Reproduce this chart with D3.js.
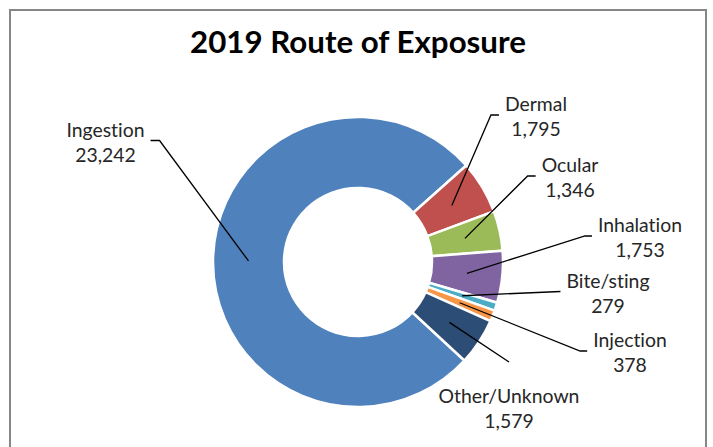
<!DOCTYPE html>
<html>
<head>
<meta charset="utf-8">
<script src="https://cdn.jsdelivr.net/npm/d3@7/dist/d3.min.js"></script>
<style>
  html, body { margin: 0; padding: 0; background: #fff; }
  svg { display: block; }
  text { font-variant-ligatures: none; font-feature-settings: "liga" 0, "clig" 0; }
</style>
</head>
<body>
<script>
// ---- data ----
const categories = ["Ingestion", "Dermal", "Ocular", "Inhalation", "Bite/sting", "Injection", "Other/Unknown"];
const values = [23242, 1795, 1346, 1753, 279, 378, 1579];
const colors = ["#4F81BD", "#C0504D", "#9BBB59", "#8064A2", "#4BACC6", "#F79646", "#2C4D75"];
const titleText = "2019 Route of Exposure";

// ---- layout (label placement) ----
const labelCenters = [[105.5, 136.5], [536, 111], [570, 172], [640, 232], [608, 287.5], [630, 347], [509, 403]];
const labelSides = ["right", "left", "left", "left", "left", "left", "top"];
const elbows = [9, 8, 8, 7, 0, 7, 0];

const W = 713, H = 447;
const cx = 358, cy = 262, outerR = 145, innerR = 74;
const startDeg = 132.8;

const svg = d3.select("body").append("svg").attr("width", W).attr("height", H);

// frame
svg.append("rect").attr("x", 10).attr("y", 10).attr("width", 696).attr("height", 460)
  .attr("fill", "#fff").attr("stroke", "#868686").attr("stroke-width", 2);

const FONT = "Lato, 'Open Sans', sans-serif";

// title (fit to target width)
const title = svg.append("text").text(titleText)
  .attr("x", 358).attr("y", 53).attr("text-anchor", "middle")
  .attr("font-family", FONT).attr("font-weight", 700).attr("font-size", 30).attr("fill", "#000");
{
  const w = title.node().getComputedTextLength();
  title.attr("font-size", 30 * 336 / w);
}

// pie
const a0 = startDeg * Math.PI / 180;
const pie = d3.pie().sort(null).value(d => d.value).startAngle(a0).endAngle(a0 + 2 * Math.PI);
const data = categories.map((c, i) => ({ cat: c, value: values[i], color: colors[i] }));
const arcs = pie(data);
const arc = d3.arc().innerRadius(innerR).outerRadius(outerR);

const g = svg.append("g").attr("transform", `translate(${cx},${cy})`);
g.selectAll("path.slice").data(arcs).join("path")
  .attr("class", "slice")
  .attr("d", arc)
  .attr("fill", d => d.data.color)
  .attr("stroke", "#fff").attr("stroke-width", 2.5).attr("stroke-linejoin", "miter");

// labels
const fmt = d3.format(",");
const probe = svg.append("text").text("Other/Unknown").attr("font-family", FONT).attr("font-size", 20);
const labelSize = 20 * 141 / probe.node().getComputedTextLength();
probe.remove();

const lineGap = 25;
arcs.forEach((d, i) => {
  const [lx, ly] = labelCenters[i];
  const t = svg.append("text").attr("font-family", FONT).attr("font-size", labelSize)
    .attr("fill", "#262626").attr("text-anchor", "middle");
  t.append("tspan").attr("x", lx).attr("y", ly).text(d.data.cat);
  t.append("tspan").attr("x", lx).attr("y", ly + lineGap).text(fmt(d.data.value));
  const bb = t.node().getBBox();
  const c = arc.centroid(d);
  const px = cx + c[0], py = cy + c[1];
  let pts;
  if (labelSides[i] === "left") {
    const ax = bb.x - 6, ay = ly + 4;
    pts = [[ax, ay], [ax - elbows[i], ay], [px, py]];
  } else if (labelSides[i] === "right") {
    const ax = bb.x + bb.width + 6, ay = ly + 4;
    pts = [[ax, ay], [ax + elbows[i], ay], [px, py]];
  } else {
    const ax = lx, ay = ly - 41;
    pts = [[ax, ay], [px, py]];
  }
  svg.append("path").attr("d", d3.line()(pts))
    .attr("fill", "none").attr("stroke", "#000").attr("stroke-width", 1.3);
});
</script>
</body>
</html>
